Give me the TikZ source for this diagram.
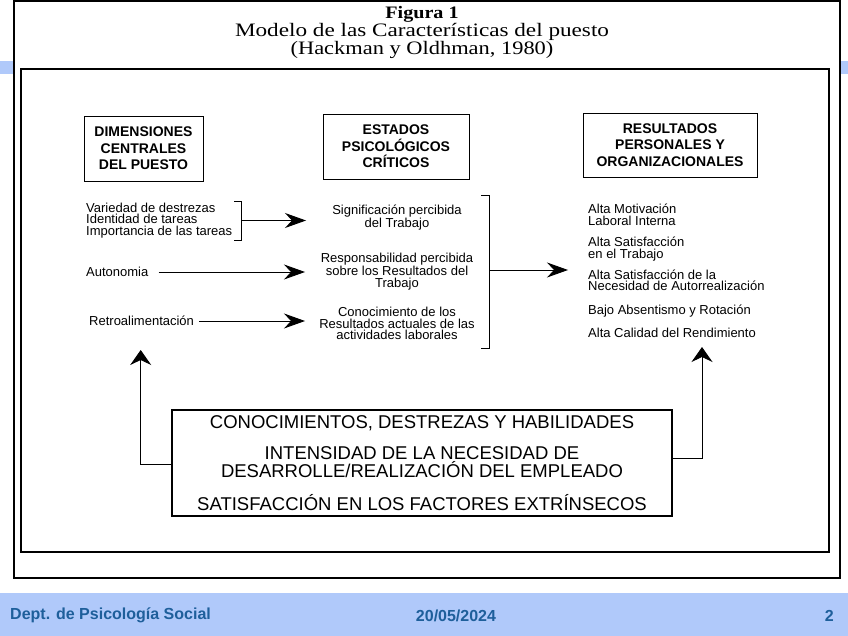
\documentclass[tikz,border=0pt]{standalone}
\usepackage{fontspec}
\setmainfont{Liberation Serif}
\setsansfont{Liberation Sans}
\usepackage{tikz}
\usetikzlibrary{positioning}
\usetikzlibrary{calc}
\usetikzlibrary{arrows.meta}
\definecolor{barblue}{RGB}{176,201,250}
\definecolor{footblue}{RGB}{30,95,155}

\begin{document}
\begin{tikzpicture}[x=1pt, y=-1pt,
  headbox/.style={draw, line width=0.9pt, align=center, inner sep=0pt,
    font=\sffamily\bfseries\fontsize{14}{16.5}\selectfont},
  item/.style={align=left, inner sep=0pt, anchor=west,
    font=\sffamily\fontsize{13}{11.5}\selectfont},
  itemc/.style={align=center, inner sep=0pt,
    font=\sffamily\fontsize{13}{11.5}\selectfont},
  brk/.style={line width=0.9pt},
  flecha/.style={line width=0.9pt, -{Stealth[length=21pt, width=15pt, inset=7pt]}},
  flechav/.style={line width=0.9pt, -{Stealth[length=15pt, width=21pt, inset=5pt]}},
  foot/.style={inner sep=0pt, text=footblue,
    font=\sffamily\bfseries\fontsize{16}{16}\selectfont}]
  \useasboundingbox (0,0) rectangle (848,636);
  \fill[barblue] (0,61) rectangle (848,74);
  \fill[barblue] (0,593) rectangle (848,636);
  \fill[white] (14,1) rectangle (840,578);
  \draw[line width=1.2pt] (14,1) rectangle (840,578);
  \draw[line width=1.8pt] (20.7,69) rectangle (829,551.7);

  \node (fig) at (422,14) {\scalebox{1.15}[1]{\fontsize{17.5}{17.5}\selectfont\bfseries Figura 1}};
  \node (mod) at (422,32) {\scalebox{1.22}[1]{\fontsize{19}{19}\selectfont Modelo de las Características del puesto}};
  \node (ref) at (422,50) {\scalebox{1.18}[1]{\fontsize{19}{19}\selectfont (Hackman y Oldhman, 1980)}};

  \node[headbox, minimum width=119, minimum height=65] (dim) at (143.5,148.5) {DIMENSIONES\\CENTRALES\\DEL PUESTO};
  \node[headbox, minimum width=146, minimum height=65] (est) at (396,146.5) {ESTADOS\\PSICOLÓGICOS\\CRÍTICOS};
  \node[headbox, minimum width=174, minimum height=64] (res) at (670,145) {RESULTADOS\\PERSONALES Y\\ORGANIZACIONALES};

  \node[item] (var) at (86,220.5) {Variedad de destrezas\\Identidad de tareas\\Importancia de las tareas};
  \node[item] (aut) at (86,272) {Autonomia};
  \node[item] (ret) at (89,321) {Retroalimentación};

  \node[itemc] (sig) at (397,218) {Significación percibida\\del Trabajo};
  \node[itemc] (rsp) at (397,271.5) {Responsabilidad percibida\\sobre los Resultados del\\Trabajo};
  \node[itemc] (con) at (397,323.5) {Conocimiento de los\\Resultados actuales de las\\actividades laborales};

  \node[item] (mot) at (588,215) {Alta Motivación\\Laboral Interna};
  \node[item] (sat) at (588,249) {Alta Satisfacción\\en el Trabajo};
  \node[item] (atr) at (588,280.5) {Alta Satisfacción de la\\Necesidad de Autorrealización};
  \node[item] (abs) at (588,311) {Bajo Absentismo y Rotación};
  \node[item] (cal) at (588,333) {Alta Calidad del Rendimiento};

  \node[draw, line width=1.3pt, minimum width=500, minimum height=106, align=center, inner sep=0pt,
    font=\sffamily\fontsize{18.5}{15}\selectfont] (fac) at (422,463)
    {CONOCIMIENTOS, DESTREZAS Y HABILIDADES\\[15pt]
     INTENSIDAD DE LA NECESIDAD DE\\DESARROLLE/REALIZACIÓN DEL EMPLEADO\\[16pt]
     SATISFACCIÓN EN LOS FACTORES EXTRÍNSECOS};

  \coordinate (lbr) at (241.7,220.5);
  \coordinate (rbr) at (489,270);
  \coordinate (t1) at (306,220.5);
  \coordinate (t2) at (305,272);
  \coordinate (t3) at (305,321);
  \coordinate (t4) at (568,270);
  \coordinate (up1) at (140.7,350);
  \coordinate (up2) at (702,347);

  \draw[brk] (234,201) -- (241.7,201) -- (241.7,240.7) -- (234,240.7);
  \draw[brk] (481,195) -- (489,195) -- (489,348) -- (481,348);

  \draw[flecha] (lbr) -- (t1);
  \draw[flecha] ($(aut.east)+(10,0)$) -- (t2);
  \draw[flecha] ($(ret.east)+(5,0)$) -- (t3);
  \draw[flecha] (rbr) -- (t4);
  \draw[flechav] ($(fac.west)+(0,1)$) -| (up1);
  \draw[flechav] ($(fac.east)+(0,-5)$) -| (up2);

  \node[foot, anchor=west] (dep) at (10,615) {Dept. de Psicología Social};
  \node[foot] (fecha) at (456,616) {20/05/2024};
  \node[foot, anchor=east] (pag) at (834,616) {2};
\end{tikzpicture}
\end{document}
